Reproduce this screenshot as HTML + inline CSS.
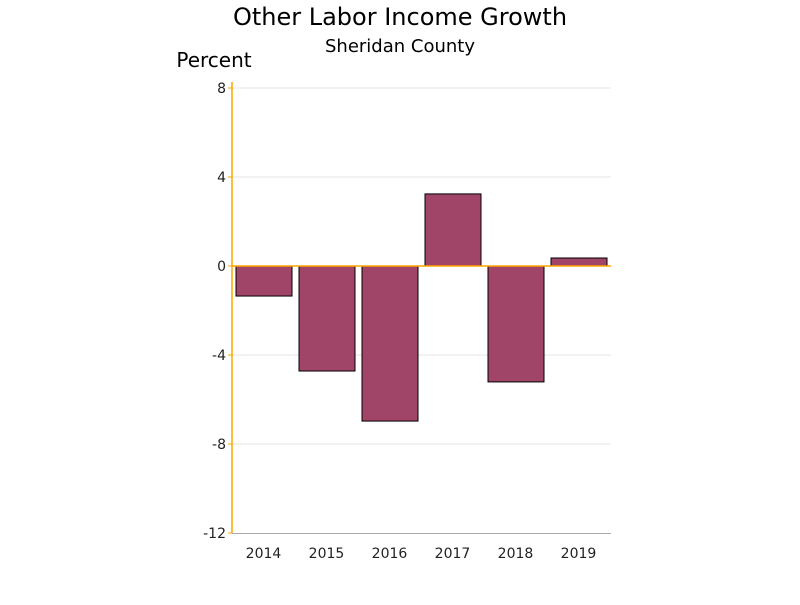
<!DOCTYPE html>
<html><head><meta charset="utf-8"><style>
body{margin:0;background:#fff;}
svg text{font-family:"DejaVu Sans","Liberation Sans",sans-serif;}
</style></head><body>
<svg id="chart" width="800" height="600">
<text x="400" y="25" font-size="24" text-anchor="middle" fill="#000">Other Labor Income Growth</text>
<text x="400" y="52" font-size="18" text-anchor="middle" fill="#000">Sheridan County</text>
<text x="214" y="67" font-size="20" text-anchor="middle" fill="#000">Percent</text>
<g id="grid"></g><g id="bars"></g><g id="axes"></g>
</svg>
<script>
const categories = ["2014","2015","2016","2017","2018","2019"];
const values = [-1.35, -4.72, -6.97, 3.24, -5.21, 0.36];
const yTicks = [8, 4, 0, -4, -8, -12];
const NS = "http://www.w3.org/2000/svg";
const x0 = 232, x1 = 610, yTop = 88, yBot = 533, yMax = 8, yMin = -12;
function y(v){ return yTop + (yMax - v) / (yMax - yMin) * (yBot - yTop); }
const band = (x1 - x0) / categories.length;
function xb(i){ return x0 + i * band; }
function mk(tag, attrs, parent){ const e = document.createElementNS(NS, tag); for (const k in attrs) e.setAttribute(k, attrs[k]); parent.appendChild(e); return e; }
const grid = document.getElementById("grid"), bars = document.getElementById("bars"), axes = document.getElementById("axes");
yTicks.forEach(t => {
  if (t !== 0 && t !== yMin) {
    const g = mk("line", {x1: x0, x2: 611, y1: y(t), y2: y(t), stroke: "#e4e4e4", "stroke-width": 1}, grid);
    
    
  }
  const tk = mk("line", {x1: 228, x2: x0, y1: y(t), y2: y(t), stroke: "#ffa500", "stroke-width": 1}, axes);
  
  
  const lb = mk("text", {x: 226, y: y(t) + 5, "font-size": 14, "text-anchor": "end", fill: "#222"}, axes);
  lb.textContent = t;
  
  
});
categories.forEach((c, i) => {
  const v = values[i];
  const top = Math.min(y(v), y(0)), h = Math.abs(y(v) - y(0));
  const r = mk("rect", {x: xb(i) + 4, y: top, width: band - 7, height: h, fill: "#a04468", stroke: "#000", "stroke-width": 1}, bars);
  
  
  const lb = mk("text", {x: xb(i) + band / 2, y: 558, "font-size": 14, "text-anchor": "middle", fill: "#222"}, axes);
  lb.textContent = c;
  
  
});
const xa = mk("line", {x1: x0, x2: 611, y1: yBot + 0.5, y2: yBot + 0.5, stroke: "#aaa", "stroke-width": 1}, axes);


const ya = mk("line", {x1: x0, x2: x0, y1: 82, y2: yBot, stroke: "#ffa500", "stroke-width": 1.5}, axes);


const zl = mk("line", {x1: x0, x2: 611, y1: y(0), y2: y(0), stroke: "#ffa500", "stroke-width": 1.5}, axes);


</script>
</body></html>
